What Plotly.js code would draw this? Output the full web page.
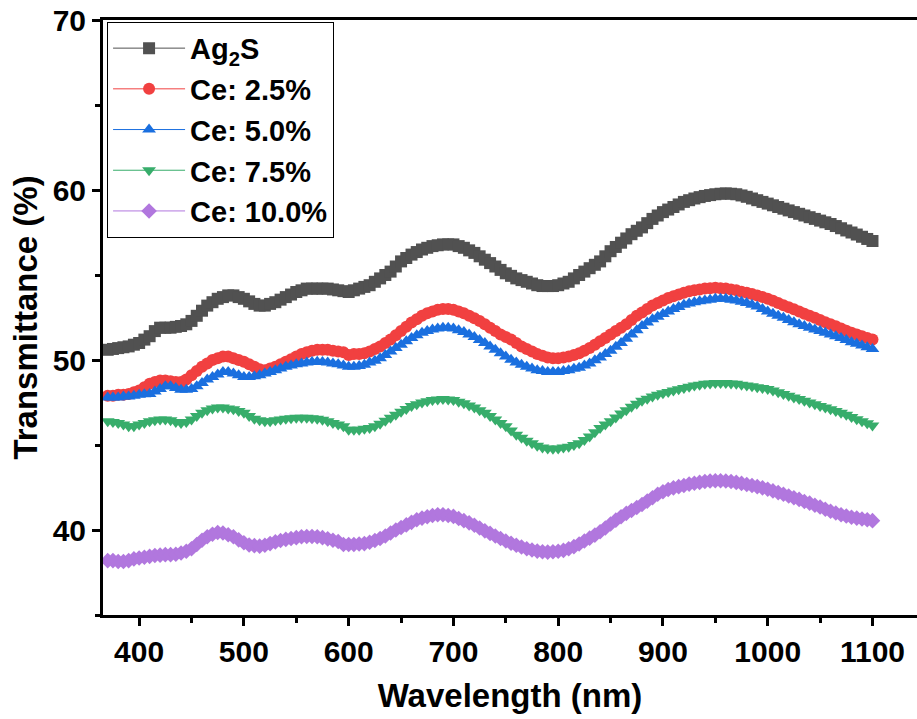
<!DOCTYPE html>
<html>
<head>
<meta charset="utf-8">
<script src="https://cdn.plot.ly/plotly-3.0.1.min.js"></script>
<style>html,body{margin:0;padding:0;background:#fff;}#chart{width:917px;height:719px;}</style>
</head>
<body>
<div id="chart"></div>
<script>
const wavelength = [
370,375,380,385,390,395,400,405,410,415,
420,425,430,435,440,445,450,455,460,465,
470,475,480,485,490,495,500,505,510,515,
520,525,530,535,540,545,550,555,560,565,
570,575,580,585,590,595,600,605,610,615,
620,625,630,635,640,645,650,655,660,665,
670,675,680,685,690,695,700,705,710,715,
720,725,730,735,740,745,750,755,760,765,
770,775,780,785,790,795,800,805,810,815,
820,825,830,835,840,845,850,855,860,865,
870,875,880,885,890,895,900,905,910,915,
920,925,930,935,940,945,950,955,960,965,
970,975,980,985,990,995,1000,1005,1010,1015,
1020,1025,1030,1035,1040,1045,1050,1055,1060,1065,
1070,1075,1080,1085,1090,1095,1100];

const ag2s = [
50.6,50.65,50.7,50.75,50.8,50.9,51.0,51.2,51.4,51.7,
51.9,51.9,51.9,51.95,52.0,52.1,52.3,52.6,52.9,53.2,
53.4,53.6,53.7,53.8,53.8,53.7,53.6,53.45,53.3,53.2,
53.2,53.3,53.4,53.55,53.7,53.85,54.0,54.1,54.2,54.2,
54.2,54.2,54.2,54.15,54.1,54.05,54.0,54.1,54.2,54.3,
54.4,54.6,54.8,55.0,55.2,55.5,55.8,56.0,56.2,56.35,
56.5,56.6,56.7,56.75,56.8,56.8,56.8,56.7,56.6,56.45,
56.3,56.1,55.9,55.7,55.5,55.3,55.1,54.95,54.8,54.7,
54.6,54.5,54.4,54.35,54.35,54.35,54.4,54.5,54.6,54.8,
55.0,55.2,55.4,55.6,55.8,56.1,56.4,56.65,56.9,57.15,
57.4,57.6,57.8,58.05,58.3,58.5,58.7,58.85,59.0,59.15,
59.3,59.4,59.5,59.58,59.65,59.7,59.75,59.78,59.8,59.78,
59.75,59.68,59.6,59.5,59.4,59.3,59.2,59.1,59.0,58.9,
58.8,58.7,58.6,58.5,58.4,58.3,58.2,58.1,58.0,57.88,
57.75,57.62,57.5,57.38,57.25,57.12,57.0];

const ce25 = [
47.9,47.9,47.95,47.95,48.0,48.1,48.2,48.4,48.6,48.7,
48.8,48.8,48.75,48.7,48.7,48.85,49.1,49.35,49.6,49.8,
50.0,50.1,50.2,50.2,50.1,50.0,49.9,49.75,49.6,49.45,
49.4,49.5,49.6,49.75,49.9,50.05,50.2,50.35,50.45,50.55,
50.6,50.6,50.6,50.55,50.5,50.45,50.3,50.35,50.35,50.4,
50.5,50.65,50.8,51.0,51.2,51.45,51.7,51.95,52.2,52.4,
52.6,52.75,52.85,52.95,53.0,53.0,52.95,52.85,52.75,52.6,
52.45,52.3,52.1,51.9,51.7,51.5,51.35,51.2,51.0,50.8,
50.65,50.5,50.35,50.25,50.15,50.1,50.1,50.15,50.2,50.3,
50.4,50.55,50.7,50.9,51.1,51.3,51.5,51.7,51.9,52.1,
52.35,52.6,52.8,53.0,53.2,53.35,53.5,53.65,53.75,53.85,
53.95,54.05,54.1,54.15,54.2,54.22,54.25,54.22,54.2,54.15,
54.1,54.02,53.95,53.88,53.8,53.7,53.6,53.48,53.35,53.22,
53.1,52.98,52.85,52.72,52.6,52.48,52.35,52.22,52.1,51.98,
51.85,51.72,51.6,51.5,51.4,51.3,51.2];

const ce50 = [
47.8,47.8,47.8,47.85,47.85,47.9,47.95,47.98,48.0,48.15,
48.3,48.45,48.45,48.35,48.25,48.25,48.3,48.45,48.65,48.85,
49.0,49.15,49.3,49.3,49.2,49.1,49.0,49.0,49.05,49.1,
49.2,49.3,49.4,49.5,49.6,49.68,49.75,49.8,49.85,49.88,
49.9,49.88,49.85,49.8,49.75,49.68,49.6,49.6,49.65,49.72,
49.85,49.95,50.1,50.3,50.5,50.7,50.9,51.1,51.3,51.45,
51.6,51.7,51.8,51.85,51.9,51.9,51.85,51.75,51.65,51.5,
51.35,51.18,51.0,50.8,50.6,50.4,50.2,50.02,49.85,49.72,
49.6,49.5,49.4,49.35,49.3,49.3,49.3,49.35,49.4,49.48,
49.55,49.68,49.8,49.98,50.15,50.35,50.55,50.78,51.0,51.25,
51.5,51.75,52.0,52.2,52.4,52.55,52.7,52.85,53.0,53.12,
53.25,53.32,53.4,53.45,53.5,53.55,53.6,53.6,53.6,53.55,
53.5,53.42,53.35,53.25,53.15,53.0,52.85,52.72,52.6,52.48,
52.35,52.22,52.1,52.0,51.9,51.8,51.7,51.6,51.5,51.4,
51.3,51.18,51.05,50.95,50.85,50.75,50.65];

const ce75 = [
46.4,46.35,46.3,46.2,46.1,46.1,46.2,46.3,46.4,46.45,
46.5,46.5,46.45,46.35,46.3,46.35,46.5,46.7,46.9,47.05,
47.15,47.2,47.2,47.15,47.1,47.0,46.9,46.7,46.55,46.45,
46.4,46.4,46.45,46.5,46.55,46.58,46.6,46.6,46.6,46.58,
46.55,46.48,46.4,46.3,46.2,46.1,45.9,45.9,45.9,45.95,
46.0,46.1,46.25,46.42,46.6,46.78,46.95,47.12,47.3,47.4,
47.5,47.58,47.65,47.68,47.7,47.68,47.65,47.55,47.45,47.32,
47.2,47.05,46.9,46.7,46.5,46.3,46.1,45.85,45.6,45.42,
45.25,45.1,44.95,44.85,44.8,44.78,44.8,44.85,44.9,45.0,
45.1,45.3,45.5,45.75,46.0,46.2,46.4,46.62,46.85,47.05,
47.25,47.42,47.6,47.72,47.85,47.95,48.05,48.12,48.2,48.28,
48.35,48.42,48.5,48.55,48.6,48.62,48.65,48.65,48.65,48.62,
48.6,48.55,48.5,48.45,48.4,48.35,48.3,48.2,48.1,48.0,
47.9,47.8,47.7,47.6,47.5,47.4,47.3,47.2,47.1,47.0,
46.9,46.78,46.65,46.52,46.4,46.28,46.15];

const ce100 = [
38.2,38.2,38.15,38.15,38.2,38.3,38.35,38.4,38.45,38.5,
38.52,38.55,38.55,38.57,38.65,38.75,38.9,39.15,39.4,39.6,
39.75,39.85,39.82,39.72,39.6,39.42,39.25,39.12,39.08,39.05,
39.1,39.2,39.3,39.38,39.45,39.5,39.55,39.6,39.62,39.62,
39.6,39.55,39.48,39.4,39.32,39.15,39.15,39.15,39.18,39.2,
39.28,39.38,39.5,39.65,39.82,40.0,40.15,40.3,40.45,40.6,
40.7,40.78,40.85,40.9,40.9,40.85,40.8,40.68,40.55,40.42,
40.28,40.12,39.95,39.8,39.65,39.5,39.35,39.22,39.1,39.0,
38.9,38.82,38.76,38.72,38.7,38.72,38.75,38.8,38.9,39.02,
39.18,39.35,39.52,39.7,39.9,40.12,40.35,40.58,40.78,40.98,
41.15,41.32,41.5,41.7,41.9,42.1,42.25,42.38,42.48,42.55,
42.62,42.7,42.75,42.8,42.85,42.88,42.9,42.9,42.88,42.85,
42.8,42.74,42.68,42.62,42.55,42.48,42.4,42.3,42.2,42.1,
42.0,41.9,41.8,41.68,41.58,41.46,41.35,41.22,41.1,41.0,
40.9,40.82,40.75,40.7,40.65,40.6,40.55];

const seriesNames = ['Ag<sub>2</sub>S', 'Ce: 2.5%', 'Ce: 5.0%', 'Ce: 7.5%', 'Ce: 10.0%'];
const seriesValues = [ag2s, ce25, ce50, ce75, ce100];
const seriesColors = ['#515151', '#F14040', '#1A6FDF', '#37AD6B', '#B177DE'];
const seriesSymbols = ['square', 'circle', 'triangle-up', 'triangle-down', 'diamond'];
const seriesSizes = [12, 12, 12, 12, 12];

const FONT = 'Arial, "Liberation Sans", sans-serif';

const traces = seriesValues.map((vals, i) => ({
  type: 'scatter',
  mode: 'lines+markers',
  x: wavelength,
  y: vals,
  name: seriesNames[i],
  line: {color: seriesColors[i], width: 1},
  marker: {color: seriesColors[i], symbol: seriesSymbols[i], size: seriesSizes[i], line: {width: 0}},
  cliponaxis: true
}));

const layout = {
  width: 917,
  height: 719,
  margin: {l: 103, r: 0, t: 20, b: 104},
  paper_bgcolor: '#ffffff',
  plot_bgcolor: '#ffffff',
  font: {family: FONT, color: '#000000'},
  showlegend: true,
  legend: {
    x: 0.005, y: 0.997, xanchor: 'left', yanchor: 'top',
    bordercolor: '#000000', borderwidth: 1, bgcolor: '#ffffff',
    font: {family: FONT, size: 29, weight: 700, color: '#000000'},
    itemwidth: 72,
    tracegroupgap: 0
  },
  xaxis: {
    range: [365.5, 1142.5],
    showgrid: false, zeroline: false,
    showline: true, linecolor: '#000000', linewidth: 3, mirror: true,
    ticks: 'outside', ticklen: 8, tickwidth: 3, tickcolor: '#000000',
    tick0: 400, dtick: 100,
    minor: {ticks: 'outside', ticklen: 5, tickwidth: 3, tickcolor: '#000000', dtick: 50, tick0: 400},
    tickfont: {family: FONT, size: 30, weight: 700, color: '#000000'},
    title: {text: 'Wavelength (nm)', font: {family: FONT, size: 33, weight: 700, color: '#000000'}, standoff: 17},
    automargin: false
  },
  yaxis: {
    range: [35, 70],
    showgrid: false, zeroline: false,
    showline: true, linecolor: '#000000', linewidth: 3, mirror: false,
    ticks: 'outside', ticklen: 8, tickwidth: 3, tickcolor: '#000000',
    tick0: 40, dtick: 10,
    minor: {ticks: 'outside', ticklen: 5, tickwidth: 3, tickcolor: '#000000', dtick: 5, tick0: 35},
    tickfont: {family: FONT, size: 30, weight: 700, color: '#000000'},
    title: {text: 'Transmittance (%)', font: {family: FONT, size: 33, weight: 700, color: '#000000'}, standoff: 6},
    automargin: false
  }
};

Plotly.newPlot('chart', traces, layout, {displayModeBar: false, staticPlot: true});
</script>
</body>
</html>
